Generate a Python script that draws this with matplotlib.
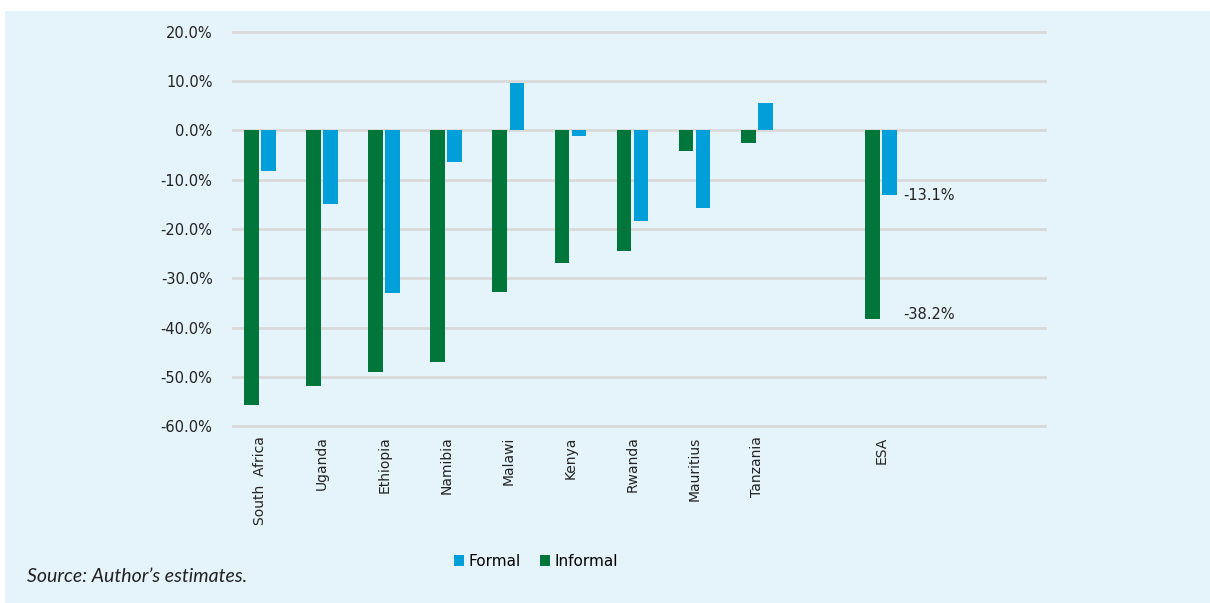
import numpy as np
import matplotlib.pyplot as plt
from matplotlib.patches import Rectangle

countries = ['South  Africa', 'Uganda', 'Ethiopia', 'Namibia', 'Malawi', 'Kenya',
             'Rwanda', 'Mauritius', 'Tanzania', '', 'ESA', '', '']
informal = [-55.8, -51.8, -49.1, -46.9, -32.7, -27.0, -24.5, -4.2, -2.6, np.nan, -38.2, np.nan, np.nan]
formal = [-8.3, -15.0, -32.9, -6.4, 9.6, -1.2, -18.4, -15.8, 5.5, np.nan, -13.1, np.nan, np.nan]
yticks = [20, 10, 0, -10, -20, -30, -40, -50, -60]

bg = '#E5F3FB'
green = '#00763A'
blue = '#009FDA'
txt = '#222222'

plt.rcParams['font.family'] = ['DejaVu Sans']

fig = plt.figure(figsize=(12.10, 6.03), dpi=100, facecolor='white')
fig.patches.append(Rectangle((5 / 1210, 0), 1, 1 - 11 / 603, transform=fig.transFigure,
                             facecolor=bg, edgecolor='none', zorder=-1))
ax = fig.add_axes([232 / 1210, 1 - 428 / 603, (1047 - 232) / 1210, (428 - 30) / 603])
ax.set_facecolor(bg)

x = np.arange(len(countries))
w = 0.235
ax.bar(x - 0.14, informal, w, color=green, label='Informal', zorder=3)
ax.bar(x + 0.135, formal, w, color=blue, label='Formal', zorder=3)

ax.set_xlim(-0.45, 12.67)
ax.set_ylim(-60.4, 20.4)
ax.set_yticks(yticks)
ax.set_yticklabels(['%.1f%%' % v for v in yticks], fontsize=10.5, color=txt)
ax.yaxis.grid(True, color='#D9D9D9', linewidth=2)
ax.set_axisbelow(True)
ax.tick_params(axis='y', length=0, pad=14)
ax.tick_params(axis='x', length=0, pad=6)
ax.set_xticks(x)
ax.set_xticklabels(countries, rotation=90, fontsize=10, color=txt)
for s in ax.spines.values():
    s.set_visible(False)

esa = countries.index('ESA')
ax.text(esa + 0.36, formal[esa], '%.1f%%' % formal[esa], fontsize=10.5, va='center', ha='left', color=txt)
ax.text(esa + 0.36, informal[esa] + 0.8, '%.1f%%' % informal[esa], fontsize=10.5, va='center', ha='left', color=txt)

h, l = ax.get_legend_handles_labels()
fig.legend(h[::-1], l[::-1], loc='center', bbox_to_anchor=(536 / 1210, 1 - 561 / 603), ncol=2,
           frameon=False, fontsize=11, handlelength=0.7, handleheight=0.7,
           handletextpad=0.3, columnspacing=1.2)

fig.text(27 / 1210, 1 - 577 / 603, 'Source: Author\u2019s estimates.', fontsize=14, style='italic',
         va='center', ha='left', color=txt, family='Lato')

fig.savefig('out.png', dpi=100, facecolor=fig.get_facecolor())
